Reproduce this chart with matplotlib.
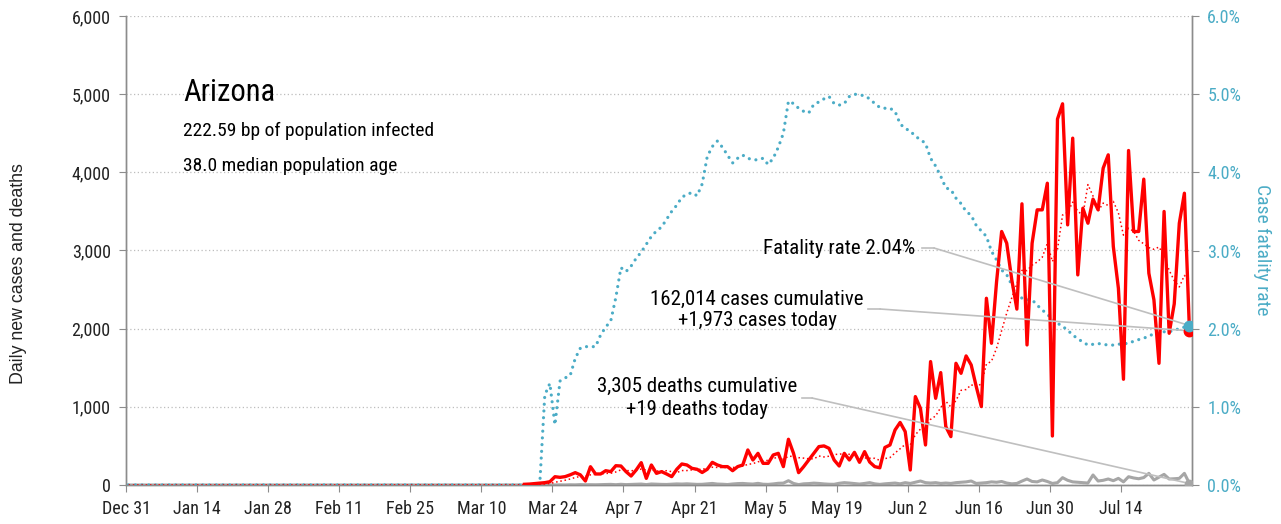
import numpy as np
import pandas as pd
import matplotlib
matplotlib.use('Agg')
import matplotlib.pyplot as plt
import matplotlib.dates as mdates
from matplotlib.ticker import FuncFormatter, MultipleLocator

plt.rcParams['font.family'] = ['Roboto Condensed', 'DejaVu Sans']
plt.rcParams['font.stretch'] = 'condensed'

# ---------------- data ----------------
start_date = pd.Timestamp('2019-12-31')
end_date = pd.Timestamp('2020-07-27')
cases_start = pd.Timestamp('2020-03-18')   # daily cases line starts here (zero before)
deaths_start = pd.Timestamp('2020-03-20')
cfr_start = pd.Timestamp('2020-03-21')     # fatality rate is zero before this date

daily_cases = [
    9, 12, 18, 25, 30, 42,                                   # Mar 18 - Mar 23
    106, 98, 107, 130, 158, 130, 51, 234, 141, 141,          # Mar 24 - Apr 2
    183, 171, 247, 243, 171, 115, 192, 286, 85, 256,         # Apr 3 - Apr 12
    149, 171, 141, 107, 201, 269, 256, 213, 201, 160,        # Apr 13 - Apr 22
    201, 290, 256, 235, 235, 183, 235, 256, 448, 320,        # Apr 23 - May 2
    405, 277, 277, 384, 405, 235, 585, 405, 158, 235,        # May 3 - May 12
    320, 405, 491, 500, 469, 320, 243, 405, 320, 418,        # May 13 - May 22
    290, 427, 294, 235, 220, 480, 512, 704, 800, 683,        # May 23 - Jun 1
    192, 1131, 981, 512, 1579, 1109, 1438, 747, 619, 1557,   # Jun 2 - Jun 11
    1429, 1651, 1536, 1259, 1003, 2389, 1813, 2600, 3243, 3093,  # Jun 12 - Jun 21
    2624, 2250, 3597, 1792, 3093, 3520, 3520, 3861, 627, 4681,   # Jun 22 - Jul 1
    4877, 3328, 4437, 2688, 3541, 3349, 3657, 3520, 4053, 4224,  # Jul 2 - Jul 11
    3051, 2517, 1353, 4279, 3243, 3243, 3913, 2709, 2368, 1557,  # Jul 12 - Jul 21
    3499, 1941, 2317, 3349, 3733, 1973,                          # Jul 22 - Jul 27
]

daily_deaths = [
    1, 0, 1, 0, 1, 2, 1, 3, 2, 5,                 # Mar 20 - Mar 29
    3, 4, 3, 5, 6, 8, 4, 9, 5, 7,                 # Mar 30 - Apr 8
    9, 12, 5, 13, 10, 8, 7, 10, 14, 12,           # Apr 9 - Apr 18
    15, 11, 8, 9, 14, 20, 12, 10, 6, 13,          # Apr 19 - Apr 28
    18, 20, 15, 12, 21, 10, 8, 14, 22, 24,        # Apr 29 - May 8
    55, 20, 5, 15, 18, 24, 20, 14, 10, 9,         # May 9 - May 18
    22, 30, 25, 18, 12, 20, 30, 15, 8, 15,        # May 19 - May 28
    20, 25, 15, 30, 20, 35, 51, 30, 25, 30,       # May 29 - Jun 7
    20, 25, 20, 30, 35, 40, 51, 20, 25, 30,       # Jun 8 - Jun 17
    40, 35, 45, 25, 15, 20, 50, 77, 45, 40,       # Jun 18 - Jun 27
    64, 45, 20, 30, 94, 60, 40, 35, 30, 25,       # Jun 28 - Jul 7
    128, 51, 60, 77, 55, 85, 40, 106, 90, 80,     # Jul 8 - Jul 17
    95, 149, 64, 100, 136, 77, 80, 85, 149, 19,   # Jul 18 - Jul 27
]

fatality_rate_pct = [
    0.00, 1.15, 1.30, 0.77, 1.33, 1.37, 1.40, 1.62, 1.75, 1.77,   # Mar 21 - Mar 30
    1.77, 1.77, 1.92, 2.02, 2.10, 2.40, 2.78, 2.73, 2.80, 2.90,   # Mar 31 - Apr 9
    2.98, 3.08, 3.18, 3.25, 3.30, 3.40, 3.50, 3.58, 3.68, 3.72,   # Apr 10 - Apr 19
    3.74, 3.70, 3.85, 4.20, 4.33, 4.40, 4.32, 4.22, 4.12, 4.18,   # Apr 20 - Apr 29
    4.22, 4.18, 4.16, 4.16, 4.18, 4.10, 4.18, 4.32, 4.50, 4.91,   # Apr 30 - May 9
    4.88, 4.82, 4.78, 4.76, 4.87, 4.90, 4.94, 4.97, 4.88, 4.86,   # May 10 - May 19
    4.88, 4.97, 5.00, 4.99, 4.98, 4.94, 4.88, 4.83, 4.82, 4.82,   # May 20 - May 29
    4.78, 4.62, 4.56, 4.53, 4.46, 4.42, 4.37, 4.18, 4.08, 3.95,   # May 30 - Jun 8
    3.80, 3.78, 3.67, 3.60, 3.50, 3.45, 3.32, 3.25, 3.18, 2.99,   # Jun 9 - Jun 18
    2.88, 2.75, 2.69, 2.56, 2.45, 2.39, 2.37, 2.37, 2.30, 2.24,   # Jun 19 - Jun 28
    2.18, 2.13, 2.07, 2.03, 1.98, 1.92, 1.87, 1.83, 1.79, 1.80,   # Jun 29 - Jul 8
    1.81, 1.80, 1.79, 1.79, 1.80, 1.81, 1.81, 1.84, 1.86, 1.88,   # Jul 9 - Jul 18
    1.90, 1.94, 1.95, 1.96, 1.96, 1.98, 2.00, 2.02, 2.04,         # Jul 19 - Jul 27
]

title_text = "Arizona"
subtitle_lines = ["222.59 bp of population infected", "38.0 median population age"]
fatality_label = "Fatality rate 2.04%"
cases_label = "162,014 cases cumulative\n+1,973 cases today"
deaths_label = "3,305 deaths cumulative\n+19 deaths today"

# ---------------- build series ----------------
dates = pd.date_range(start_date, end_date, freq='D')
cases = pd.Series(np.nan, index=dates)
cases.loc[cases_start:] = daily_cases
deaths = pd.Series(0.0, index=dates)
deaths.loc[deaths_start:] = daily_deaths
cfr = pd.Series(0.0, index=dates)
cfr.loc[cfr_start:] = fatality_rate_pct
cases_avg7 = cases.fillna(0).rolling(7, min_periods=1).mean()

xpos = mdates.date2num(dates + pd.Timedelta(hours=12))
x_last = xpos[-1]

# ---------------- style ----------------
RED = '#ff0000'
BLUE = '#4bacc6'
GRAY = '#a6a6a6'
SPINE = '#8c8c8c'
CONN = '#bfbfbf'

W, H = 1281, 524
fig = plt.figure(figsize=(W / 100, H / 100), dpi=100)
L, R, T, B = 126, 1192, 16, 485
ax = fig.add_axes([L / W, 1 - B / H, (R - L) / W, (B - T) / H])
ax2 = ax.twinx()
ax.set_zorder(ax2.get_zorder() + 1)
ax.patch.set_visible(False)

x0 = mdates.date2num(start_date)
ax.set_xlim(x0, x0 + 210)
ax.set_ylim(0, 6000)
ax2.set_ylim(0, 6)

# grid
ax.yaxis.set_major_locator(MultipleLocator(1000))
ax.grid(axis='y', color='#bdbdbd', linestyle=(0, (1, 2)), linewidth=0.9, zorder=0)
ax.grid(axis='x', visible=False)
ax.set_axisbelow(True)

# lines
ax.plot(xpos, deaths.values, color=GRAY, lw=2.2, zorder=2, solid_joinstyle='round')
ax.plot(xpos, cfr.values, color=BLUE, lw=2.3, linestyle=(0, (0.01, 2.1)),
        dash_capstyle='round', transform=ax2.transData, zorder=3)
ax.plot(xpos, cases_avg7.values, color=RED, lw=1.1, linestyle=(0, (1, 1.8)), zorder=3.5)
ax.plot(xpos, cases.values, color=RED, lw=2.4, zorder=4, solid_joinstyle='round')

def fx(px):
    return (px - L) / (R - L)

def fy(py):
    return (B - py) / (B - T)

# connectors
def connector(px0, px1, py, xy, trans):
    ax.plot([fx(px0), fx(px1)], [fy(py), fy(py)], transform=ax.transAxes, color=CONN, lw=1.2, zorder=5)
    ax.annotate('', xy=xy, xycoords=trans, xytext=(fx(px1), fy(py)), textcoords='axes fraction',
                arrowprops=dict(arrowstyle='-', color=CONN, lw=1.2, shrinkA=0, shrinkB=0),
                zorder=5)

connector(922, 934, 248, (x_last, cfr.values[-1]), ax2.transData)
connector(868, 880, 309, (x_last, cases.values[-1]), ax.transData)
connector(802, 812, 398, (x_last, deaths.values[-1]), ax.transData)

# end markers
ax.plot([x_last], [deaths.values[-1]], 'o', color=GRAY, ms=6, zorder=6)
ax.plot([x_last], [cases.values[-1]], 'o', color=RED, ms=7.5, zorder=6)
ax.plot([x_last], [cfr.values[-1]], 'o', color=BLUE, ms=7.5, zorder=7, transform=ax2.transData)

# texts
ax.text(fx(183), fy(93), title_text, transform=ax.transAxes, fontsize=22, ha='left', va='center')
ax.text(fx(183), fy(131), subtitle_lines[0], transform=ax.transAxes, fontsize=14, ha='left', va='center')
ax.text(fx(183), fy(166), subtitle_lines[1], transform=ax.transAxes, fontsize=14, ha='left', va='center')
ax.text(fx(915), fy(248), fatality_label, transform=ax.transAxes, fontsize=15, ha='right', va='center')
ax.text(fx(757), fy(310), cases_label, transform=ax.transAxes, fontsize=15, ha='center', va='center',
        multialignment='center', linespacing=1.2)
ax.text(fx(697), fy(398), deaths_label, transform=ax.transAxes, fontsize=15, ha='center', va='center',
        multialignment='center', linespacing=1.25)

# axes
tick_dates = pd.date_range(start_date, periods=15, freq='14D')
ax.set_xticks(mdates.date2num(tick_dates))
ax.set_xticklabels([f"{d:%b} {d.day}" for d in tick_dates])
ax.yaxis.set_major_formatter(FuncFormatter(lambda v, p: f"{int(v):,}"))
ax2.yaxis.set_major_locator(MultipleLocator(1))
ax2.yaxis.set_major_formatter(FuncFormatter(lambda v, p: f"{v:.1f}%"))

for a in (ax, ax2):
    for s in a.spines.values():
        s.set_color(SPINE)
        s.set_linewidth(1.0)
    a.spines['top'].set_visible(False)

ax.tick_params(axis='x', length=5, color=SPINE, labelsize=13, pad=6, labelcolor='#222222')
ax.tick_params(axis='y', length=5, color=SPINE, labelsize=13, pad=6, labelcolor='#222222')
ax2.tick_params(axis='y', length=5, color=SPINE, labelsize=13, pad=6, labelcolor=BLUE)

fig.text(18.5 / W, 1 - 274 / H, "Daily new cases and deaths", rotation=90, ha='center', va='center',
         fontsize=12.8, color='#222222', family=['Liberation Sans', 'DejaVu Sans'], stretch='normal')
fig.text(1262 / W, 1 - 250 / H, "Case fatality rate", rotation=270, ha='center', va='center',
         fontsize=14, color=BLUE)

fig.savefig('out.png', dpi=100)
